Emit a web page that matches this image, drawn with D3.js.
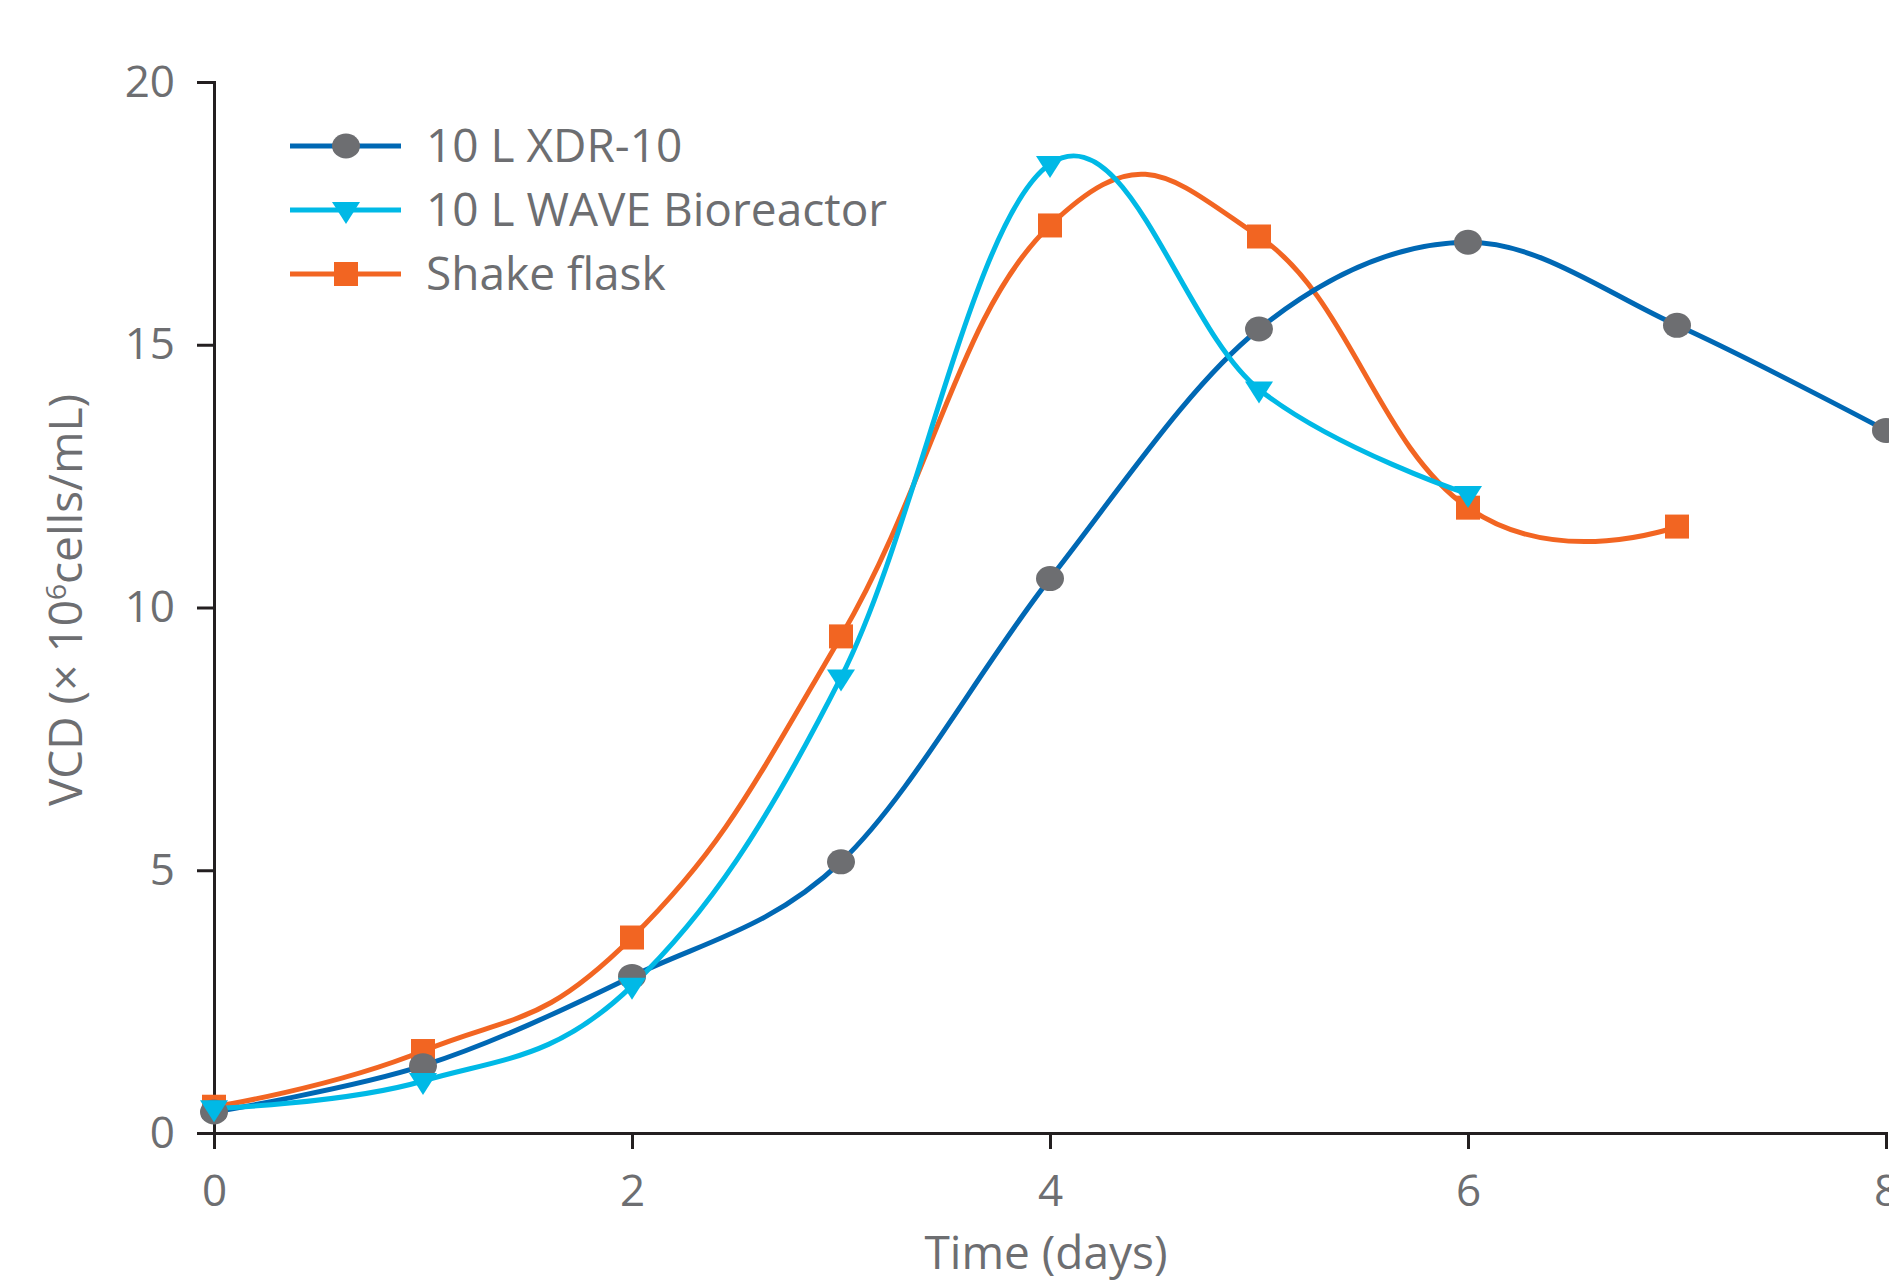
<!DOCTYPE html>
<html>
<head>
<meta charset="utf-8">
<script src="https://cdn.jsdelivr.net/npm/d3@7.9.0/dist/d3.min.js"></script>
<style>
  html, body { margin: 0; padding: 0; background: #fff; }
  svg { display: block; font-family: "Open Sans", sans-serif; }
  .axis path, .axis line { stroke: #231f20; stroke-width: 3px; }
  .axis text { fill: #6d6e71; font-size: 44px; font-family: "Open Sans", sans-serif; }
  .label, .legend text { fill: #6d6e71; font-size: 46px; }
</style>
</head>
<body>
<svg id="chart"></svg>
<script>
// days on the x axis
const days = [0, 1, 2, 3, 4, 5, 6, 7, 8];
const xTicks = [0, 2, 4, 6, 8];
const yTicks = [0, 5, 10, 15, 20];

// VCD (x 10^6 cells/mL) per day
const xdr10 = [0.4, 1.28, 2.98, 5.16, 10.55, 15.3, 16.95, 15.37, 13.37];
const wave = [0.47, 0.99, 2.8, 8.67, 18.44, 14.15, 12.16];
const shakeFlask = [0.5, 1.56, 3.72, 9.45, 17.27, 17.06, 11.9, 11.54];

const seriesNames = ['10 L XDR-10', '10 L WAVE Bioreactor', 'Shake flask'];
const lineColors = ['#0068b4', '#00b9e6', '#f26522'];
const markerColors = ['#6d6e71', '#00b9e6', '#f26522'];
const markerTypes = ['circle', 'triangle', 'square'];
// how loose each smoothed line is (cardinal tension)
const tensions = [0, -0.1, -0.3];

const width = 1889;
const height = 1283;

const svg = d3.select('#chart')
  .attr('width', width)
  .attr('height', height);

const xScale = d3.scaleLinear().domain([0, 8]).range([214, 1886]);
const yScale = d3.scaleLinear().domain([0, 20]).range([1133, 82]);

// axes
svg.append('g')
  .attr('class', 'axis x-axis')
  .attr('transform', `translate(0, ${yScale(0)})`)
  .call(d3.axisBottom(xScale).tickValues(xTicks).tickSize(16).tickSizeOuter(0).tickPadding(26));

svg.append('g')
  .attr('class', 'axis y-axis')
  .attr('transform', `translate(${xScale(0)}, 0)`)
  .call(d3.axisLeft(yScale).tickValues(yTicks).tickSize(17).tickSizeOuter(0).tickPadding(22));

svg.selectAll('.axis .domain').attr('stroke-linecap', 'square');

// axis titles
svg.append('text')
  .attr('class', 'label')
  .attr('x', 1046)
  .attr('y', 1269)
  .attr('text-anchor', 'middle')
  .text('Time (days)');

const yTitle = svg.append('text')
  .attr('class', 'label')
  .attr('transform', 'translate(82, 600) rotate(-90)')
  .attr('text-anchor', 'middle');
yTitle.append('tspan').text('VCD (× 10');
yTitle.append('tspan').attr('font-size', '28px').attr('dy', '-16').text('6');
yTitle.append('tspan').attr('dy', '16').text('cells/mL)');

// lines
const allSeries = [xdr10, wave, shakeFlask].map((values, i) => ({
  name: seriesNames[i],
  points: values.map((v, j) => ({ day: days[j], value: v })),
  lineColor: lineColors[i],
  markerColor: markerColors[i],
  marker: markerTypes[i],
  tension: tensions[i],
}));

function lineFor(tension) {
  return d3.line()
    .x(d => xScale(d.day))
    .y(d => yScale(d.value))
    .curve(d3.curveCardinal.tension(tension));
}

// draw order: orange, blue, cyan
const drawOrder = [2, 0, 1];

function drawMarker(g, type, color) {
  if (type === 'circle') {
    g.append('ellipse').attr('rx', 14).attr('ry', 12.5).attr('fill', color);
  } else if (type === 'square') {
    g.append('rect').attr('x', -12).attr('y', -12).attr('width', 24).attr('height', 24).attr('fill', color);
  } else {
    g.append('path').attr('d', 'M-14,-8 L14,-8 L0,14 Z').attr('fill', color);
  }
}

for (const i of drawOrder) {
  const s = allSeries[i];
  svg.append('path')
    .datum(s.points)
    .attr('fill', 'none')
    .attr('stroke', s.lineColor)
    .attr('stroke-width', 5)
    .attr('d', lineFor(s.tension));
}

for (const i of drawOrder) {
  const s = allSeries[i];
  svg.append('g')
    .selectAll('g')
    .data(s.points)
    .join('g')
    .attr('transform', d => `translate(${xScale(d.day)}, ${yScale(d.value)})`)
    .each(function () { drawMarker(d3.select(this), s.marker, s.markerColor); });
}

// legend
const legend = svg.append('g').attr('class', 'legend');
const legendRows = [146, 210, 274];

allSeries.forEach((s, i) => {
  const row = legend.append('g').attr('transform', `translate(0, ${legendRows[i]})`);
  row.append('line')
    .attr('x1', 290).attr('x2', 401)
    .attr('stroke', s.lineColor)
    .attr('stroke-width', 5);
  drawMarker(row.append('g').attr('transform', 'translate(346, 0)'), s.marker, s.markerColor);
  row.append('text')
    .attr('x', 426)
    .attr('dy', '0.35em')
    .text(s.name);
});
</script>
</body>
</html>
